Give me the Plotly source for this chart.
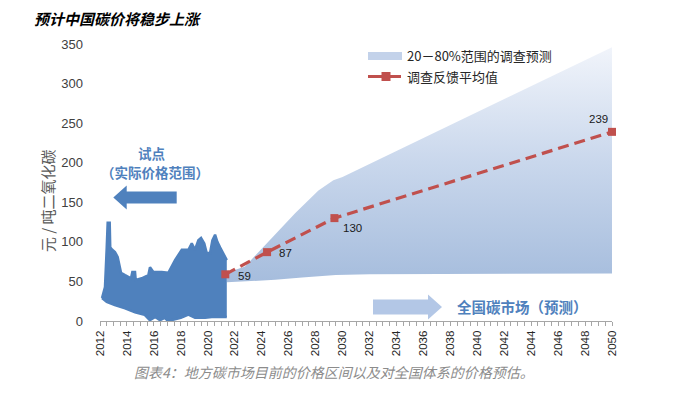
import plotly.graph_objects as go

# ---------------- data ----------------
# historical pilot-market price range (envelope)
hist_high_years = [2012.15, 2012.37, 2012.5, 2012.57, 2012.72, 2012.76, 2012.91, 2013.11, 2013.31, 2013.41,
                   2013.56, 2013.86, 2014.10, 2014.30, 2014.40, 2014.60, 2014.65, 2015.10, 2015.59, 2015.71,
                   2015.96, 2016.58, 2017.07, 2017.44, 2017.57, 2018.07, 2018.56, 2018.81, 2019.05, 2019.30,
                   2019.50, 2019.74, 2019.92, 2020.17, 2020.34, 2020.54, 2020.71, 2020.91, 2021.15, 2021.41]
hist_high = [29, 43, 93, 124, 124, 93, 90, 87, 81, 73,
             61, 58, 56, 54, 62, 62, 52, 54, 58, 68,
             62, 62, 61, 73, 77, 90, 90, 98, 90, 102,
             105, 98, 86, 86, 102, 109, 100, 93, 86, 77]
hist_low_years = [2012.15, 2012.5, 2013.1, 2013.86, 2014.6, 2015.3, 2015.7, 2016.1, 2016.45, 2016.8,
                  2017.05, 2017.55, 2018.0, 2018.56, 2019.05, 2019.8, 2020.3, 2021.0, 2021.41]
hist_low = [29, 24, 20, 16, 11, 8, 1, 5, 1, 4,
            0, 2, 4, 8, 4, 4, 5, 5, 5]

# 20-80% survey forecast band
band_low_years = [2021.41, 2023, 2025, 2027, 2029.5, 2032, 2050]
band_low = [49, 50, 52, 55, 58, 59, 60]
band_high_years = [2021.41, 2022.76, 2024.49, 2026.48, 2028.21, 2029.32, 2030.0, 2050]
band_high = [61, 69, 100, 136, 165, 178, 182, 346]

# survey mean
mean_years = [2021.3, 2024.4, 2029.4, 2050]
mean_vals = [59, 87, 130, 239]

x_tick_labels = [str(y) for y in range(2012, 2051, 2)]
y_tick_vals = list(range(0, 351, 50))

# ---------------- text ----------------
title_text = "预计中国碳价将稳步上涨"
y_title = "元 / 吨二氧化碳"
caption = "图表4：地方碳市场目前的价格区间以及对全国体系的价格预估。"
legend_band = "20－80%范围的调查预测"
legend_mean = "调查反馈平均值"
pilot_label1 = "试点"
pilot_label2 = "（实际价格范围）"
national_label = "全国碳市场（预测）"

# ---------------- styles ----------------
BLUE = "#4F81BD"
RED = "#C0504D"
CJK = "Noto Sans CJK SC"
LAT = "Liberation Sans, Arial, sans-serif"

W, H = 698, 393
ML, MR, MT, MB = 100, 86, 44, 72
PW, PH = W - ML - MR, H - MT - MB


def px(x):
    return (x - ML) / PW


def py(y):
    return (H - MB - y) / PH


def text_ann(x, y, text, font, xanchor="center", **kw):
    d = dict(x=px(x), y=py(y), xref="paper", yref="paper", showarrow=False,
             xanchor=xanchor, yanchor="middle", text=text, font=font)
    d.update(kw)
    return d


fig = go.Figure()

# forecast band
fig.add_trace(go.Scatter(x=band_low_years, y=band_low, mode="lines",
                         line=dict(width=0, color="rgba(0,0,0,0)"), hoverinfo="skip"))
fig.add_trace(go.Scatter(x=band_high_years, y=band_high, mode="lines", fill="tonexty",
                         line=dict(width=0, color="rgba(0,0,0,0)"),
                         fillgradient=dict(type="vertical", start=50, stop=350,
                                           colorscale=[[0, "#A6BDDD"], [0.5, "#C9D7EC"], [1, "#F2F5FB"]]),
                         hoverinfo="skip"))

# historical range
fig.add_trace(go.Scatter(x=hist_low_years, y=hist_low, mode="lines",
                         line=dict(width=2.5, color=BLUE), hoverinfo="skip"))
fig.add_trace(go.Scatter(x=hist_high_years, y=hist_high, mode="lines", fill="tonexty",
                         fillcolor=BLUE, line=dict(width=2.5, color=BLUE), hoverinfo="skip"))

# survey mean
fig.add_trace(go.Scatter(x=mean_years, y=mean_vals, mode="lines+markers",
                         line=dict(color=RED, width=3.2, dash="11px,6px"),
                         marker=dict(symbol="square", size=8, color=RED),
                         cliponaxis=False))

annotations = []
label_offsets = [(19, -2), (18, -1), (18, -10), (-14, 13)]
for xv, yv, (dx, dy) in zip(mean_years, mean_vals, label_offsets):
    annotations.append(dict(x=xv, y=yv, xref="x", yref="y", text=str(yv), showarrow=False,
                            xanchor="center", yanchor="middle",
                            xshift=dx, yshift=dy, font=dict(family=LAT, size=11.5, color="#1a1a1a")))

annotations += [
    text_ann(118, 18, "<b><i>" + title_text + "</i></b>", dict(family=CJK, size=15, color="#000000")),
    text_ann(47, 201, y_title, dict(family=CJK, size=15, color="#595959"), textangle=-90),
    text_ann(334, 372, "<i>" + caption + "</i>", dict(family=CJK, size=14, color="#8C8C8C")),
    text_ann(152, 153, "<b>" + pilot_label1 + "</b>", dict(family=CJK, size=13.5, color=BLUE)),
    text_ann(155, 172, "<b>" + pilot_label2 + "</b>", dict(family=CJK, size=13.5, color=BLUE)),
    text_ann(522, 306, "<b>" + national_label + "</b>", dict(family=CJK, size=14.5, color=BLUE)),
    text_ann(405, 56, legend_band, dict(family=CJK, size=13, color="#262626"), xanchor="left"),
    text_ann(405, 76.5, legend_mean, dict(family=CJK, size=13, color="#262626"), xanchor="left"),
]


def arrow_path(tail, tip, cy, shaft_half, head_half, head_base):
    pts = [(tail, cy - shaft_half), (head_base, cy - shaft_half), (head_base, cy - head_half),
           (tip, cy), (head_base, cy + head_half), (head_base, cy + shaft_half), (tail, cy + shaft_half)]
    return "M " + " L ".join(f"{px(a):.5f},{py(b):.5f}" for a, b in pts) + " Z"


shapes = [
    dict(type="path", xref="paper", yref="paper",
         path=arrow_path(176.7, 113.3, 197.5, 6, 12, 126.7),
         fillcolor=BLUE, line=dict(width=0)),
    dict(type="path", xref="paper", yref="paper",
         path=arrow_path(373, 442, 307, 7.5, 12.5, 428),
         fillcolor="#B3C7E6", line=dict(width=0)),
    # legend symbols
    dict(type="rect", xref="paper", yref="paper", x0=px(368), x1=px(402), y0=py(60), y1=py(52),
         fillcolor="#C3D2EA", line=dict(width=0)),
    dict(type="line", xref="paper", yref="paper", x0=px(368), x1=px(401), y0=py(76.5), y1=py(76.5),
         line=dict(color=RED, width=3.2)),
    dict(type="rect", xref="paper", yref="paper", x0=px(381.5), x1=px(390.5), y0=py(81), y1=py(72),
         fillcolor=RED, line=dict(width=0)),
]

fig.update_layout(
    width=W, height=H,
    margin=dict(l=ML, r=MR, t=MT, b=MB),
    plot_bgcolor="white", paper_bgcolor="white",
    showlegend=False,
    annotations=annotations,
    shapes=shapes,
    xaxis=dict(range=[2012, 2050], tickmode="array",
               tickvals=[int(t) for t in x_tick_labels], ticktext=x_tick_labels,
               tickangle=-90, ticks="outside", ticklen=4, tickcolor="#A6A6A6",
               showline=True, linecolor="#A6A6A6", linewidth=1,
               showgrid=False, zeroline=False,
               minor=dict(dtick=0.5, tick0=2012, ticks="outside", ticklen=4, tickcolor="#A6A6A6"),
               tickfont=dict(family=LAT, size=11.5, color="#262626")),
    yaxis=dict(range=[0, 350], tickmode="array", tickvals=y_tick_vals,
               ticktext=[str(v) for v in y_tick_vals],
               showline=False, showgrid=False, zeroline=False, ticks="",
               ticklabelstandoff=16,
               tickfont=dict(family=LAT, size=13, color="#404040")),
)

fig.write_html("out.html", config={"displayModeBar": False},
               post_script="document.body.style.margin='0';")
